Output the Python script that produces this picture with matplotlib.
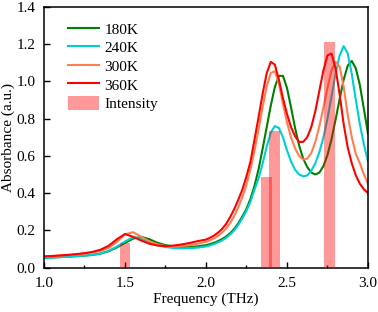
import matplotlib
matplotlib.use("Agg")
import matplotlib.pyplot as plt
from matplotlib.ticker import MultipleLocator

# frequency grid (THz)
freq_low = [1.00, 1.05, 1.10, 1.15, 1.20, 1.25, 1.30, 1.35, 1.40, 1.45,
            1.50, 1.55, 1.60, 1.65, 1.70, 1.75, 1.80, 1.85, 1.90, 1.95]
freq_high = [2.000, 2.025, 2.050, 2.075, 2.100, 2.125, 2.150, 2.175, 2.200, 2.225,
             2.250, 2.275, 2.300, 2.325, 2.350, 2.375, 2.400, 2.425, 2.450, 2.475,
             2.500, 2.525, 2.550, 2.575, 2.600, 2.625, 2.650, 2.675, 2.700, 2.725,
             2.750, 2.775, 2.800, 2.825, 2.850, 2.875, 2.900, 2.925, 2.950, 2.975,
             3.000]
freq = freq_low + freq_high

abs_180 = [0.052, 0.054, 0.056, 0.058, 0.061, 0.064, 0.068, 0.075, 0.088, 0.108,
           0.132, 0.155, 0.165, 0.152, 0.133, 0.120, 0.113, 0.110, 0.110, 0.114,
           0.120, 0.126, 0.133, 0.142, 0.153, 0.167, 0.185, 0.208, 0.238, 0.275,
           0.315, 0.370, 0.440, 0.530, 0.640, 0.755, 0.870, 0.970, 1.030, 1.030,
           0.965, 0.860, 0.750, 0.655, 0.585, 0.540, 0.510, 0.500, 0.510, 0.545,
           0.605, 0.690, 0.795, 0.905, 1.010, 1.085, 1.110, 1.070, 0.980, 0.850,
           0.720]
abs_240 = [0.052, 0.054, 0.056, 0.058, 0.061, 0.064, 0.068, 0.075, 0.090, 0.112,
           0.140, 0.163, 0.155, 0.135, 0.120, 0.110, 0.105, 0.103, 0.104, 0.107,
           0.113, 0.119, 0.126, 0.135, 0.146, 0.160, 0.178, 0.200, 0.230, 0.265,
           0.305, 0.355, 0.420, 0.480, 0.560, 0.650, 0.725, 0.760, 0.750, 0.700,
           0.630, 0.570, 0.525, 0.500, 0.490, 0.495, 0.520, 0.560, 0.620, 0.700,
           0.800, 0.920, 1.040, 1.140, 1.190, 1.150, 1.040, 0.900, 0.770, 0.660,
           0.570]
abs_300 = [0.058, 0.061, 0.064, 0.067, 0.070, 0.075, 0.080, 0.090, 0.105, 0.138,
           0.178, 0.190, 0.165, 0.140, 0.125, 0.115, 0.113, 0.115, 0.120, 0.128,
           0.138, 0.146, 0.157, 0.170, 0.188, 0.210, 0.240, 0.278, 0.325, 0.380,
           0.445, 0.530, 0.630, 0.745, 0.865, 0.975, 1.045, 1.055, 0.990, 0.880,
           0.780, 0.700, 0.640, 0.600, 0.580, 0.585, 0.615, 0.675, 0.760, 0.860,
           0.965, 1.060, 1.105, 1.080, 0.970, 0.820, 0.700, 0.610, 0.560, 0.500,
           0.450]
abs_360 = [0.060, 0.062, 0.065, 0.068, 0.072, 0.077, 0.084, 0.096, 0.117, 0.152,
           0.180, 0.165, 0.145, 0.128, 0.118, 0.115, 0.118, 0.124, 0.132, 0.142,
           0.150, 0.160, 0.172, 0.188, 0.208, 0.235, 0.272, 0.315, 0.365, 0.420,
           0.490, 0.570, 0.690, 0.810, 0.935, 1.045, 1.105, 1.090, 1.010, 0.910,
           0.825, 0.755, 0.705, 0.675, 0.675, 0.700, 0.755, 0.840, 0.950, 1.060,
           1.140, 1.150, 1.070, 0.930, 0.770, 0.645, 0.560, 0.495, 0.450, 0.420,
           0.400]

# calculated mode intensities
bar_freq = [1.500, 2.374, 2.424, 2.762]
bar_int = [0.133, 0.485, 0.733, 1.210]

series = [
    ("180K", abs_180, "#008000"),
    ("240K", abs_240, "#00CED1"),
    ("300K", abs_300, "#FF7F50"),
    ("360K", abs_360, "#FF0000"),
]

plt.rcParams["font.family"] = "Liberation Serif"
plt.rcParams["font.size"] = 11

fig = plt.figure(figsize=(3.78, 3.12), dpi=100)
ax = fig.add_axes([0.1164, 0.1426, 0.8571, 0.835])

for label, vals, color in series:
    ax.plot(freq, vals, color=color, lw=1.5, label=label, zorder=2)

ax.bar(bar_freq, bar_int, width=0.064, color="red", alpha=0.4,
       label="Intensity", zorder=3)

ax.set_xlim(1.0, 3.0)
ax.set_ylim(0.0, 1.4)
ax.xaxis.set_major_locator(MultipleLocator(0.5))
ax.xaxis.set_minor_locator(MultipleLocator(0.25))
ax.yaxis.set_major_locator(MultipleLocator(0.2))
ax.tick_params(which="both", direction="in", top=False, right=False)
ax.tick_params(which="major", length=4, width=1)
ax.tick_params(which="minor", length=2, width=1)
ax.tick_params(axis="x", which="major", pad=7)
ax.tick_params(axis="y", which="major", pad=6)
for sp in ax.spines.values():
    sp.set_linewidth(1.1)

ax.set_xlabel("Frequency (THz)", labelpad=2)
ax.set_ylabel("Absorbance (a.u.)", labelpad=1)

ax.legend(loc="upper left", bbox_to_anchor=(0.047, 0.98), frameon=False,
          handlelength=2.0, handleheight=1.1, handletextpad=0.35,
          labelspacing=0.2, borderaxespad=0.2)

fig.savefig("out.png", dpi=100)
plt.close(fig)
